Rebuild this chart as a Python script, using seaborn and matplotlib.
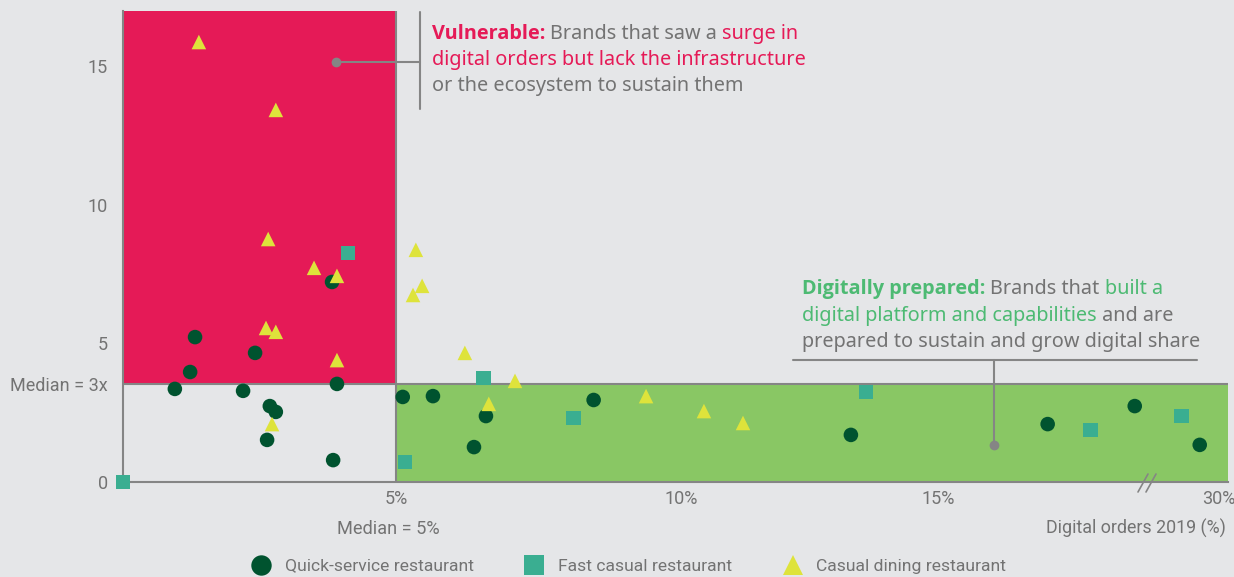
import numpy as np
import pandas as pd
import matplotlib
matplotlib.use("Agg")
import matplotlib.pyplot as plt
import seaborn as sns

# ---------------- data ----------------
qsr_x = [1.32, 1.23, 0.95, 2.42, 2.20, 3.83, 3.92, 2.69, 2.80, 2.64, 3.85,
         5.12, 5.65, 6.58, 6.37, 8.47, 13.31, 20.87, 25.52, 28.99]
qsr_y = [5.23, 3.97, 3.36, 4.66, 3.29, 7.22, 3.54, 2.74, 2.53, 1.52, 0.79,
         3.07, 3.10, 2.38, 1.26, 2.96, 1.70, 2.09, 2.74, 1.34]

fcr_x = [0.0, 4.12, 6.54, 5.16, 8.12, 13.60, 23.17, 28.02]
fcr_y = [0.0, 8.27, 3.75, 0.72, 2.31, 3.25, 1.88, 2.38]

cdr_x = [1.39, 2.80, 2.66, 3.50, 3.92, 2.62, 2.80, 3.92, 2.73,
         5.35, 5.46, 5.30, 6.21, 7.09, 6.63, 9.39, 10.45, 11.21]
cdr_y = [15.88, 13.43, 8.77, 7.73, 7.44, 5.56, 5.42, 4.40, 2.09,
         8.38, 7.08, 6.75, 4.66, 3.65, 2.82, 3.10, 2.56, 2.13]

categories = ["Quick-service restaurant", "Fast casual restaurant",
              "Casual dining restaurant"]
median_x = 5.0       # median digital orders 2019 (%)
median_y = 3.54      # median growth line position
x_ticks = [5, 10, 15, 30]
x_tick_labels = ["5%", "10%", "15%", "30%"]
y_ticks = [0, median_y, 5, 10, 15]
y_tick_labels = ["0", "Median = 3x", "5", "10", "15"]

# ---------------- style ----------------
BG = "#E5E6E8"
GRAY = "#737373"
LINE = "#858585"
PINK = "#E51A57"
GREEN_FILL = "#89C764"
GREEN_TXT = "#4DBA73"
C_QSR = "#00532F"
C_FCR = "#3AAE91"
C_CDR = "#DEE33B"

sns.set_theme(style="white")
plt.rcParams["font.family"] = ["Roboto", "DejaVu Sans"]
plt.rcParams["figure.facecolor"] = BG
plt.rcParams["axes.facecolor"] = BG

W, H = 1234, 577
fig = plt.figure(figsize=(W / 100, H / 100), dpi=100)
ax = fig.add_axes([123 / W, 1 - 482 / H, (1228 - 123) / W, (482 - 11) / H])

def fx(px):
    return px / W

def fy(py):
    return 1 - py / H

# piecewise axis (broken between 15% and 30%)
XB = np.array([-100, 0, 5, 10, 15, 30, 100], dtype=float)
PB = np.array([-100 * 54.6, 0, 273, 558, 815, 1096, 1096 + 70 * 18.73])
ax.set_xscale("function", functions=(lambda v: np.interp(v, XB, PB),
                                     lambda v: np.interp(v, PB, XB)))
ax.set_xlim(0, 30.5)
ax.set_ylim(0, 17)

# quadrant backgrounds
ax.fill_between([0, median_x], median_y, 17, color=PINK, lw=0, zorder=0)
ax.fill_between([median_x, 30.5], 0, median_y, color=GREEN_FILL, lw=0, zorder=0)
ax.axhline(median_y, color=LINE, lw=1.5, zorder=1)
ax.axvline(median_x, color=LINE, lw=1.5, zorder=1)

# ---------------- scatter via seaborn ----------------
df = pd.DataFrame({
    "x": qsr_x + fcr_x + cdr_x,
    "y": qsr_y + fcr_y + cdr_y,
    "type": [categories[0]] * len(qsr_x) + [categories[1]] * len(fcr_x)
            + [categories[2]] * len(cdr_x),
})
sns.scatterplot(data=df, x="x", y="y", hue="type", style="type",
                hue_order=categories, style_order=categories,
                palette={categories[0]: C_QSR, categories[1]: C_FCR,
                         categories[2]: C_CDR},
                markers={categories[0]: "o", categories[1]: "s",
                         categories[2]: "^"},
                s=110, linewidth=0, ax=ax, zorder=3, clip_on=False)

# ---------------- axes cosmetics ----------------
for side in ["top", "right"]:
    ax.spines[side].set_visible(False)
for side in ["left", "bottom"]:
    ax.spines[side].set_color(LINE)
    ax.spines[side].set_linewidth(1.5)
ax.set_xticks(x_ticks)
ax.set_xticklabels(x_tick_labels)
ax.set_yticks(y_ticks)
ax.set_yticklabels(y_tick_labels)
ax.tick_params(axis="both", length=0, labelsize=13, labelcolor=GRAY)
ax.tick_params(axis="x", pad=6)
ax.tick_params(axis="y", pad=11)
ax.set_xticks([median_x], minor=True)
ax.tick_params(axis="x", which="minor", length=5, width=1.5, color=LINE)
ax.set_xlabel("")
ax.set_ylabel("")

# axis break marks
for off in (0, 8):
    ax.plot([(1138 + off - 123) / 1105, (1148 + off - 123) / 1105],
            [(482 - 492) / 471, (482 - 474) / 471],
            transform=ax.transAxes, color=LINE, lw=1.2, clip_on=False)

fig.text(fx(388), fy(529), "Median = 5%", ha="center", va="center",
         fontsize=13.1, color=GRAY)
fig.text(fx(1226), fy(528), "Digital orders 2019 (%)", ha="right", va="center",
         fontsize=12.9, color=GRAY)

# ---------------- callouts ----------------
ANN_FONT = ["Noto Sans", "DejaVu Sans"]
BOLD_FONT = ["Open Sans", "DejaVu Sans"]

def rich_line(x, y, parts, size):
    last = None
    for s, c, w in parts:
        fam = BOLD_FONT if w == "bold" else ANN_FONT
        if last is None:
            last = fig.text(x, y, s, color=c, fontweight=w, fontsize=size,
                            va="baseline", ha="left", family=fam)
        else:
            last = ax.annotate(s, xy=(1, 0), xycoords=last, va="bottom",
                               ha="left", color=c, fontweight=w, fontsize=size,
                               family=fam, annotation_clip=False)

# vulnerable callout
ax.plot([3.90], [15.16], "o", color=LINE, ms=6, zorder=4, clip_on=False)
fig.add_artist(plt.Line2D([fx(336), fx(420)], [fy(62), fy(62)], color=LINE, lw=1.5))
fig.add_artist(plt.Line2D([fx(420), fx(420)], [fy(12), fy(109)], color=LINE, lw=1.5))
VS = 14.3
rich_line(fx(432), fy(39), [("Vulnerable: ", PINK, "bold"),
                            ("Brands that saw a ", GRAY, "normal"),
                            ("surge in", PINK, "normal")], VS)
rich_line(fx(432), fy(65), [("digital orders but lack the infrastructure", PINK, "normal")], VS)
rich_line(fx(432), fy(91), [("or the ecosystem to sustain them", GRAY, "normal")], VS)

# digitally prepared callout
ax.plot([17.99], [1.34], "o", color=LINE, ms=6, zorder=4, clip_on=False)
fig.add_artist(plt.Line2D([fx(793), fx(1197)], [fy(360), fy(360)], color=LINE, lw=1.5))
fig.add_artist(plt.Line2D([fx(994), fx(994)], [fy(360), fy(444)], color=LINE, lw=1.5))
rich_line(fx(802), fy(294), [("Digitally prepared: ", GREEN_TXT, "bold"),
                             ("Brands that ", GRAY, "normal"),
                             ("built a", GREEN_TXT, "normal")], VS)
rich_line(fx(802), fy(321), [("digital platform and capabilities", GREEN_TXT, "normal"),
                             (" and are", GRAY, "normal")], VS)
rich_line(fx(802), fy(347), [("prepared to sustain and grow digital share", GRAY, "normal")], VS)

# ---------------- legend ----------------
sns.move_legend(ax, "center", bbox_to_anchor=(fx(625), fy(566)),
                bbox_transform=fig.transFigure, ncol=3, frameon=False,
                title=None, fontsize=12.6, markerscale=1.4,
                columnspacing=2.45, handletextpad=0.35, labelcolor=GRAY)

fig.savefig("out.png", dpi=100, facecolor=BG)
